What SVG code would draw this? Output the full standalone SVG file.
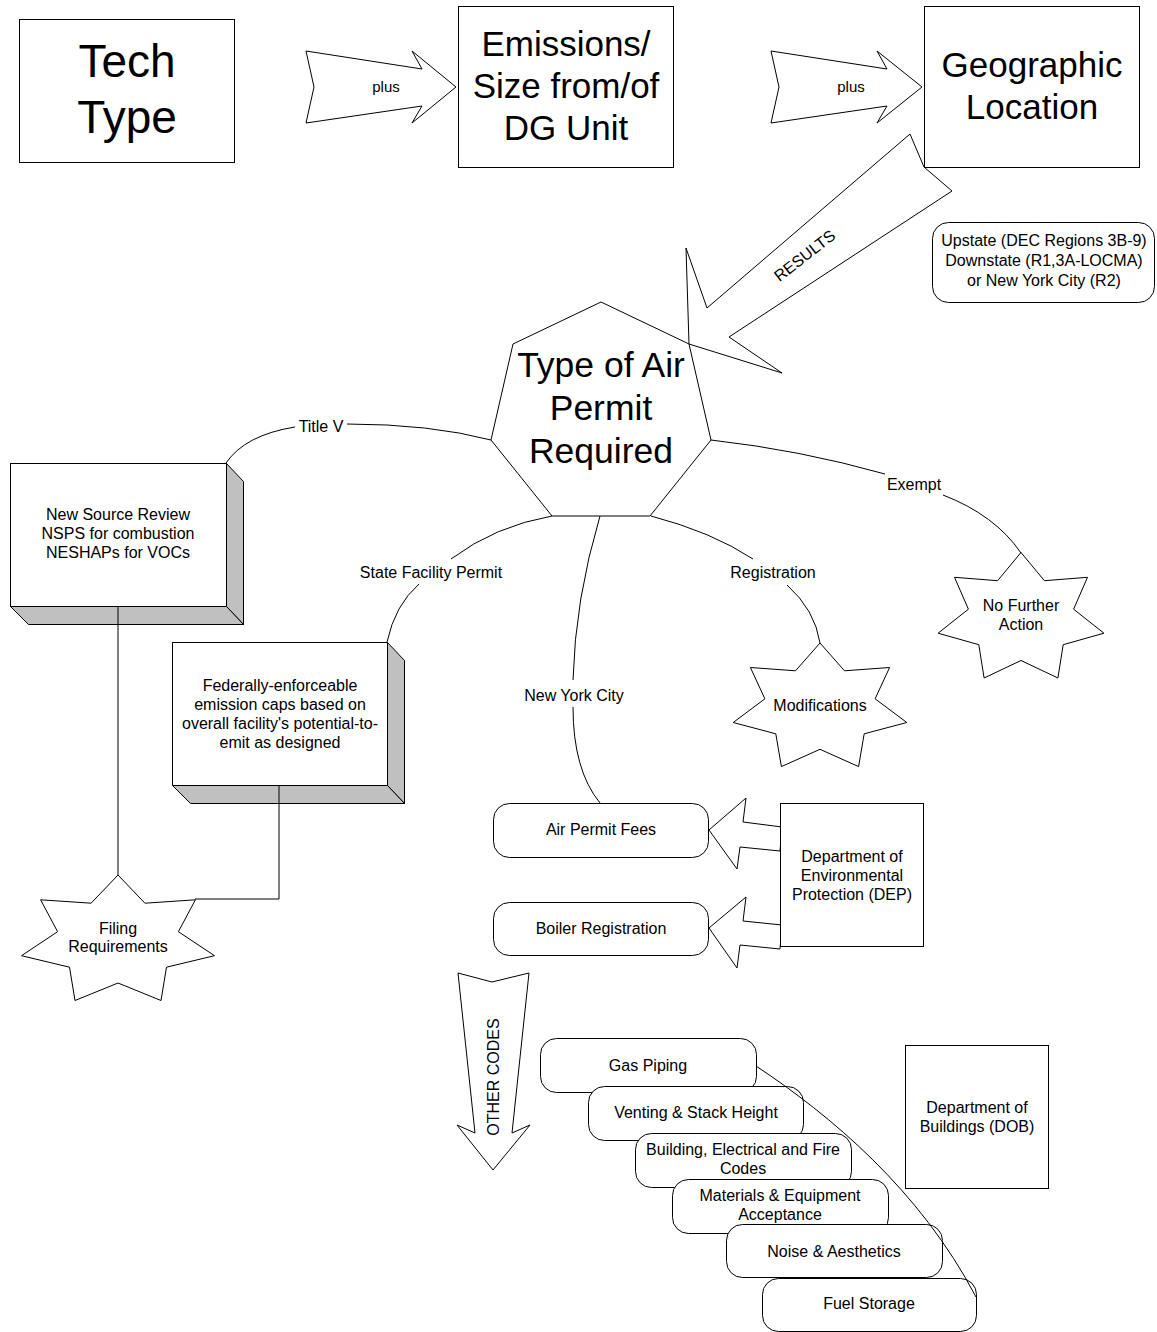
<svg xmlns="http://www.w3.org/2000/svg" width="1157" height="1332" viewBox="0 0 1157 1332">
<style>
.box{fill:#fff;stroke:#000;stroke-width:1}
.shade{fill:#c0c0c0;stroke:#000;stroke-width:1}
.ln{fill:none;stroke:#000;stroke-width:1}
.t{font-family:"Liberation Sans",Arial,sans-serif;fill:#000;text-anchor:middle}
.s16{font-size:16px}
.s15{font-size:15px}
.s35{font-size:35px}
.s46{font-size:46px}
</style>
<rect width="1157" height="1332" fill="#fff"/>

<g id="arrows">
  <g id="arrow-plus-1">
    <polygon class="box" points="306,51 314,87 306,123 422,106 412,123 456,87 412,51 422,69"/>
    <text class="t s15" x="386" y="92">plus</text>
  </g>
  <g id="arrow-plus-2">
    <polygon class="box" points="771,51 779,87 771,123 887,106 877,123 922,87 877,51 887,69"/>
    <text class="t s15" x="851" y="92">plus</text>
  </g>
  <g id="arrow-results">
    <polygon class="box" points="910,134 924,167 952,191 729,337 782,373 689,344 686,248 707,308"/>
    <text class="t s16" transform="translate(808,260) rotate(-38)" x="0" y="0">RESULTS</text>
  </g>
  <g id="arrow-dep-1">
    <polygon class="box" points="709,830 746,798 743,822 782,827 780,851 740,847 737,869"/>
  </g>
  <g id="arrow-dep-2">
    <polygon class="box" points="709,928 746,897 743,921 782,925 780,949 740,945 737,968"/>
  </g>
  <g id="arrow-other-codes">
    <polygon class="box" points="458,973 492,982 529,973 512,1133 530,1125 493,1170 457,1125 475,1133"/>
    <text class="t s16" transform="translate(499,1077) rotate(-90)" x="0" y="0">OTHER CODES</text>
  </g>
</g>

<g id="tech-type">
  <rect class="box" x="19.5" y="19.5" width="215" height="143"/>
  <text class="t s46" x="127" y="77">Tech</text>
  <text class="t s46" x="127" y="133">Type</text>
</g>

<g id="emissions">
  <rect class="box" x="458.5" y="6.5" width="215" height="161"/>
  <text class="t s35" x="566" y="56">Emissions/</text>
  <text class="t s35" x="566" y="98">Size from/of</text>
  <text class="t s35" x="566" y="140">DG Unit</text>
</g>

<g id="geographic">
  <rect class="box" x="924.5" y="6.5" width="215" height="161"/>
  <text class="t s35" x="1032" y="77">Geographic</text>
  <text class="t s35" x="1032" y="119">Location</text>
</g>

<g id="upstate">
  <rect class="box" x="932.5" y="222.5" width="222" height="80" rx="16"/>
  <text class="t s16" x="1044" y="246">Upstate (DEC Regions 3B-9)</text>
  <text class="t s16" x="1044" y="266">Downstate (R1,3A-LOCMA)</text>
  <text class="t s16" x="1044" y="286">or New York City (R2)</text>
</g>

<g id="permit-type">
  <polygon class="box" points="601,302 689,344 711,440 650,516 552,516 491,440 513,344"/>
  <text class="t" style="font-size:35.5px" x="601" y="377">Type of Air</text>
  <text class="t" style="font-size:35.5px" x="601" y="420">Permit</text>
  <text class="t" style="font-size:35.5px" x="601" y="463">Required</text>
</g>

<g id="title-v-box">
  <rect class="box" x="10.5" y="463.5" width="216" height="143"/>
  <polygon class="shade" points="226.5,463.5 243.5,481.5 243.5,624.5 226.5,606.5"/>
  <polygon class="shade" points="10.5,606.5 226.5,606.5 243.5,624.5 28.5,624.5"/>
  <text class="t s16" x="118" y="520">New Source Review</text>
  <text class="t s16" x="118" y="539">NSPS for combustion</text>
  <text class="t s16" x="118" y="558">NESHAPs for VOCs</text>
</g>

<g id="state-facility-box">
  <rect class="box" x="172.5" y="642.5" width="215" height="143"/>
  <polygon class="shade" points="387.5,642.5 404.5,660.5 404.5,803.5 387.5,785.5"/>
  <polygon class="shade" points="172.5,785.5 387.5,785.5 404.5,803.5 190.5,803.5"/>
  <text class="t s16" x="280" y="691">Federally-enforceable</text>
  <text class="t s16" x="280" y="710">emission caps based on</text>
  <text class="t s16" x="280" y="729">overall facility's potential-to-</text>
  <text class="t s16" x="280" y="748">emit as designed</text>
</g>

<g id="filing">
  <polygon class="box" points="118,875 144.9,903.2 195.4,899.8 178.4,931.7 214.5,955.7 166.5,967.2 161,1000.5 118,983 75,1000.5 69.5,967.2 21.5,955.7 57.6,931.7 40.6,899.8 91.1,903.2"/>
  <text class="t s16" x="118" y="934">Filing</text>
  <text class="t s16" x="118" y="952">Requirements</text>
</g>

<g id="modifications">
  <polygon class="box" points="820,643 844.5,670.8 889.6,667.5 875.1,698.8 906.8,722.5 864.2,733.8 858.6,766.6 820,749.3 781.4,766.6 775.8,733.8 733.2,722.5 764.9,698.8 750.4,667.5 795.5,670.8"/>
  <text class="t s16" x="820" y="711">Modifications</text>
</g>

<g id="no-further-action">
  <polygon class="box" points="1021,552.5 1044.4,580.7 1087.5,577.3 1073.6,609.2 1103.9,633.2 1063.2,644.7 1057.9,678 1021,660.5 984.1,678 978.8,644.7 938.1,633.2 968.4,609.2 954.5,577.3 997.6,580.7"/>
  <text class="t s16" x="1021" y="611">No Further</text>
  <text class="t s16" x="1021" y="630">Action</text>
</g>

<g id="air-permit-fees">
  <rect class="box" x="493.5" y="803.5" width="215" height="54" rx="16"/>
  <text class="t s16" x="601" y="835">Air Permit Fees</text>
</g>

<g id="boiler-registration">
  <rect class="box" x="493.5" y="902.5" width="215" height="53" rx="16"/>
  <text class="t s16" x="601" y="934">Boiler Registration</text>
</g>

<g id="dep">
  <rect class="box" x="780.5" y="803.5" width="143" height="143"/>
  <text class="t s16" x="852" y="862">Department of</text>
  <text class="t s16" x="852" y="881">Environmental</text>
  <text class="t s16" x="852" y="900">Protection (DEP)</text>
</g>

<g id="gas-piping">
  <rect class="box" x="540.5" y="1038.5" width="216" height="54" rx="16"/>
  <text class="t s16" x="648" y="1071">Gas Piping</text>
</g>
<g id="venting">
  <rect class="box" x="588.5" y="1086.5" width="215" height="54" rx="16"/>
  <text class="t s16" x="696" y="1118">Venting &amp; Stack Height</text>
</g>
<g id="building-codes">
  <rect class="box" x="635.5" y="1133.5" width="216" height="54" rx="16"/>
  <text class="t s16" x="743" y="1155">Building, Electrical and Fire</text>
  <text class="t s16" x="743" y="1174">Codes</text>
</g>
<g id="materials">
  <rect class="box" x="672.5" y="1179.5" width="216" height="54" rx="16"/>
  <text class="t s16" x="780" y="1201">Materials &amp; Equipment</text>
  <text class="t s16" x="780" y="1220">Acceptance</text>
</g>
<g id="noise">
  <rect class="box" x="726.5" y="1224.5" width="216" height="53" rx="16"/>
  <text class="t s16" x="834" y="1257">Noise &amp; Aesthetics</text>
</g>
<g id="fuel-storage">
  <rect class="box" x="762.5" y="1278.5" width="214" height="53" rx="16"/>
  <text class="t s16" x="869" y="1309">Fuel Storage</text>
</g>

<g id="dob">
  <rect class="box" x="905.5" y="1045.5" width="143" height="143"/>
  <text class="t s16" x="977" y="1113">Department of</text>
  <text class="t s16" x="977" y="1132">Buildings (DOB)</text>
</g>

<g id="connectors">
  <path class="ln" d="M491,440 Q430,424 347,424"/>
  <path class="ln" d="M295,427 Q245,435 226,463"/>
  <text class="t s16" x="321" y="432">Title V</text>

  <path class="ln" d="M552,516 Q495,526 451,559"/>
  <path class="ln" d="M419,584 Q395,605 387,642"/>
  <text class="t s16" x="431" y="578">State Facility Permit</text>

  <path class="ln" d="M600,516 Q575,600 573,680"/>
  <path class="ln" d="M573,707 Q573,770 600,803"/>
  <text class="t s16" x="574" y="701">New York City</text>

  <path class="ln" d="M651,516 Q712,532 753,559"/>
  <path class="ln" d="M787,585 Q815,610 820,643"/>
  <text class="t s16" x="773" y="578">Registration</text>

  <path class="ln" d="M711,440 Q800,450 885,474"/>
  <path class="ln" d="M943,495 Q995,515 1021,553"/>
  <text class="t s16" x="914" y="490">Exempt</text>

  <path class="ln" d="M118,607 V875"/>
  <path class="ln" d="M279,786 V899 H195"/>

  <path class="ln" d="M756,1066 C830,1115 920,1190 976,1297"/>
</g>
</svg>
